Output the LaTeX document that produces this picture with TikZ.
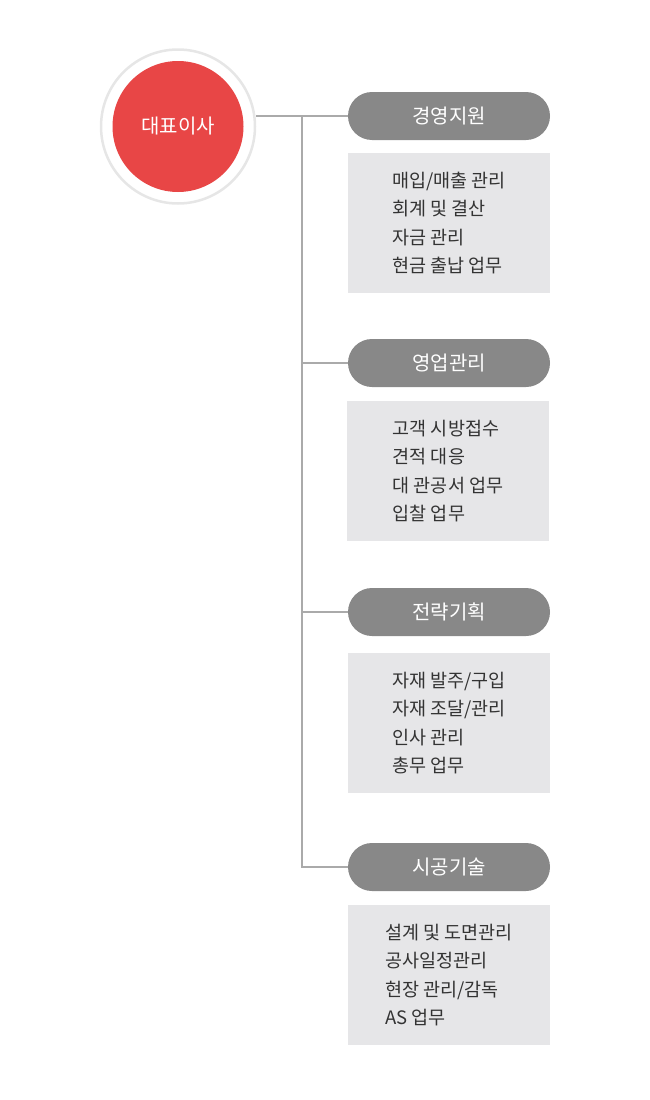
\documentclass[tikz,border=0pt]{standalone}
\usepackage{fontspec}
\setmainfont{Noto Sans CJK KR}
\usepackage{tikz}

\definecolor{ceored}{HTML}{E84646}
\definecolor{ringgray}{HTML}{E6E6E6}
\definecolor{pillgray}{HTML}{888888}
\definecolor{boxgray}{HTML}{E6E6E8}
\definecolor{linkgray}{HTML}{AAAAAA}
\definecolor{textgray}{HTML}{333333}

\begin{document}
\begin{tikzpicture}[x=1pt,y=-1pt,
  ring/.style={circle,draw=ringgray,line width=2.5pt,fill=white,minimum size=154pt,inner sep=0pt},
  ceo/.style={circle,fill=ceored,text=white,minimum size=131pt,inner sep=0pt,font=\fontsize{20}{24}\selectfont},
  dept/.style={rectangle,rounded corners=24pt,fill=pillgray,text=white,minimum width=202pt,minimum height=48pt,inner sep=0pt,font=\fontsize{20}{24}\selectfont},
  duty/.style={rectangle,fill=boxgray,text=textgray,minimum width=202pt,minimum height=140pt,inner sep=0pt,align=left,font=\fontsize{18.5}{28.5}\selectfont},
  link/.style={draw=linkgray,line width=1.2pt}]
\useasboundingbox (0,0) rectangle (650,1100);

\node[ring] (ring) at (178,126.5) {};
\node[ceo] (ceo) at (178,126.5) {대표이사};

\node[dept] (mgmt) at (449,116) {경영지원};
\node[duty] (mgmtbox) at (449,223) {매입/매출 관리\\회계 및 결산\\자금 관리\\현금 출납 업무};

\node[dept] (sales) at (449,363) {영업관리};
\node[duty] (salesbox) at (448,471) {고객 시방접수\\견적 대응\\대 관공서 업무\\입찰 업무};

\node[dept] (plan) at (449,612) {전략기획};
\node[duty] (planbox) at (449,723) {자재 발주/구입\\자재 조달/관리\\인사 관리\\총무 업무};

\node[dept] (tech) at (449,867) {시공기술};
\node[duty] (techbox) at (449,975) {설계 및 도면관리\\공사일정관리\\현장 관리/감독\\AS 업무};

% connectors
\coordinate (trunk) at (302,116);
\draw[link] (ring.east |- mgmt.west) -- (mgmt.west);
\draw[link] (trunk) |- (tech.west);
\draw[link] (trunk |- sales.west) -- (sales.west);
\draw[link] (trunk |- plan.west) -- (plan.west);
\end{tikzpicture}
\end{document}
